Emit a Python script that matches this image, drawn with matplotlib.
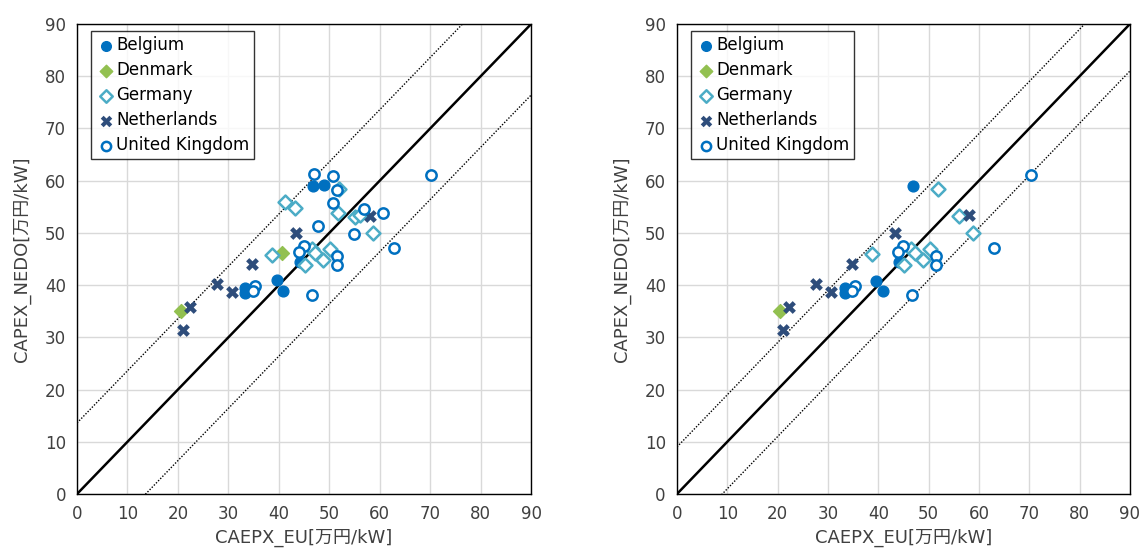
import matplotlib
matplotlib.use("Agg")
import matplotlib.pyplot as plt
import numpy as np

plt.rcParams['font.family'] = ['DejaVu Sans', 'Noto Sans CJK JP']

# ---- data: (CAPEX_EU, CAPEX_NEDO) pairs per country, unit 万円/kW ----
# Panel 1: all projects
belgium_x_all = [46.7, 49.0, 39.6, 40.8, 33.3, 33.3, 44.2]
belgium_y_all = [59.0, 59.1, 40.9, 38.9, 39.4, 38.5, 44.5]
denmark_x_all = [40.6, 20.6]
denmark_y_all = [46.1, 35.1]
germany_x_all = [52.0, 41.2, 43.2, 51.8, 55.1, 56.0, 58.7, 38.7, 46.5, 47.2, 50.2, 48.8, 45.1]
germany_y_all = [58.5, 56.0, 54.8, 53.9, 53.1, 53.4, 50.0, 45.8, 47.0, 46.1, 47.0, 44.8, 43.9]
netherlands_x_all = [43.4, 58.0, 34.7, 27.7, 30.7, 22.3, 21.1]
netherlands_y_all = [50.0, 53.3, 44.0, 40.3, 38.6, 35.9, 31.4]
uk_x_all = [47.0, 50.8, 51.5, 50.8, 70.2, 60.7, 56.9, 47.8, 54.8, 62.8,
            51.5, 51.5, 44.9, 43.9, 46.6, 35.3, 34.8]
uk_y_all = [61.2, 60.8, 58.2, 55.8, 61.0, 53.8, 54.5, 51.3, 49.7, 47.2,
            45.5, 43.9, 47.5, 46.4, 38.1, 39.8, 38.9]
band_all = 13.6

# Panel 2: selected projects
belgium_x_sel = [46.8, 39.6, 40.9, 33.3, 33.3, 44.2]
belgium_y_sel = [59.0, 40.8, 38.8, 39.4, 38.5, 44.5]
denmark_x_sel = [20.5]
denmark_y_sel = [35.1]
germany_x_sel = [51.9, 56.1, 58.9, 38.8, 46.5, 47.2, 50.2, 48.8, 45.1]
germany_y_sel = [58.5, 53.3, 50.0, 45.9, 47.0, 46.1, 47.0, 44.8, 43.9]
netherlands_x_sel = [43.4, 58.0, 34.7, 27.7, 30.7, 22.3, 21.1]
netherlands_y_sel = [50.0, 53.4, 44.0, 40.3, 38.6, 35.9, 31.4]
uk_x_sel = [70.3, 63.0, 46.7, 44.9, 43.9, 51.5, 51.5, 35.3, 34.8]
uk_y_sel = [61.1, 47.2, 38.1, 47.5, 46.4, 45.5, 43.9, 39.8, 38.9]
band_sel = 9.0

ticks = list(range(0, 91, 10))
x_label = "CAEPX_EU[万円/kW]"
y_label = "CAPEX_NEDO[万円/kW]"

BLUE = "#0070C0"
GREEN = "#92C050"
TEAL = "#4BACC6"
NAVY = "#2E4D7B"


def draw_panel(ax, data, band):
    (bx, by), (dx, dy), (gx, gy), (nx, ny), (ux, uy) = data
    lim = np.array([0, 90])
    ax.plot(lim, lim, color="black", lw=1.8, zorder=2)
    ax.plot(lim, lim + band, color="black", lw=1.0, ls=(0, (1, 1.2)), zorder=2)
    ax.plot(lim, lim - band, color="black", lw=1.0, ls=(0, (1, 1.2)), zorder=2)

    ax.scatter(bx, by, s=60, marker="o", color=BLUE, label="Belgium", zorder=3)
    ax.scatter(dx, dy, s=50, marker="D", color=GREEN, label="Denmark", zorder=3)
    ax.scatter(gx, gy, s=50, marker="D", facecolor="white", edgecolor=TEAL,
               linewidth=1.8, label="Germany", zorder=3)
    ax.scatter(nx, ny, s=85, marker="X", color=NAVY, linewidth=0,
               label="Netherlands", zorder=3)
    ax.scatter(ux, uy, s=55, marker="o", facecolor="white", edgecolor=BLUE,
               linewidth=1.8, label="United Kingdom", zorder=3)

    ax.set_xlim(0, 90)
    ax.set_ylim(0, 90)
    ax.set_xticks(ticks)
    ax.set_yticks(ticks)
    ax.grid(True, color="#D9D9D9", lw=1.0, zorder=0)
    ax.set_axisbelow(True)
    for sp in ax.spines.values():
        sp.set_color("black")
        sp.set_linewidth(1.0)
    ax.tick_params(length=0, labelsize=12, colors="#404040", pad=8)
    ax.set_xlabel(x_label, fontsize=13, color="#404040", labelpad=4)
    ax.set_ylabel(y_label, fontsize=13, color="#404040", labelpad=10)
    leg = ax.legend(loc="upper left", bbox_to_anchor=(0.02, 0.995),
                    fontsize=12, frameon=True, fancybox=False,
                    edgecolor="black", handletextpad=0.0, borderpad=0.3,
                    labelspacing=0.42, borderaxespad=0.3, markerscale=0.9,
                    handlelength=1.2)
    leg.get_frame().set_linewidth(1.0)
    for t in leg.get_texts():
        t.set_color("black")


fig = plt.figure(figsize=(11.41, 5.57), dpi=100)
ax1 = fig.add_axes([0.0675, 0.1131, 0.398, 0.8438])
ax2 = fig.add_axes([0.5933, 0.1131, 0.397, 0.8438])

draw_panel(ax1, [(belgium_x_all, belgium_y_all), (denmark_x_all, denmark_y_all),
                 (germany_x_all, germany_y_all), (netherlands_x_all, netherlands_y_all),
                 (uk_x_all, uk_y_all)], band_all)
draw_panel(ax2, [(belgium_x_sel, belgium_y_sel), (denmark_x_sel, denmark_y_sel),
                 (germany_x_sel, germany_y_sel), (netherlands_x_sel, netherlands_y_sel),
                 (uk_x_sel, uk_y_sel)], band_sel)

fig.savefig("out.png", dpi=100)
